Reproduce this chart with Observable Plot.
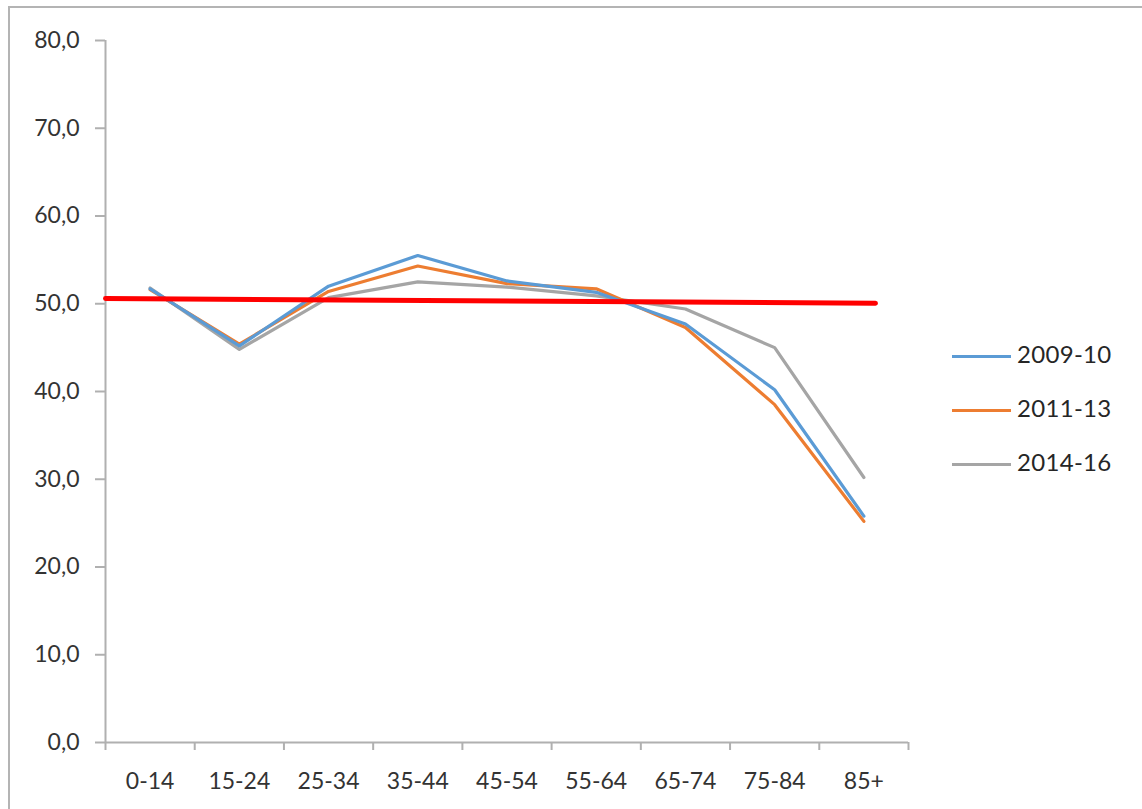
<!DOCTYPE html>
<html>
<head>
<meta charset="utf-8">
<script src="https://cdn.jsdelivr.net/npm/d3@7"></script>
<script src="https://cdn.jsdelivr.net/npm/@observablehq/plot@0.6"></script>
<style>
  html, body { margin: 0; padding: 0; background: #fff; }
  #wrap { position: relative; width: 1142px; height: 809px; overflow: hidden; font-family: Lato, "Open Sans", sans-serif; }
  #frame { position: absolute; left: 8px; top: 6px; width: 1200px; height: 900px; border-top: 2px solid #b4b4b4; border-left: 2px solid #b4b4b4; }
  #chart { position: absolute; left: 0; top: 0; }
  #legend { position: absolute; left: 952px; top: 338px; }
  .item { position: relative; height: 54px; }
  .sw { position: absolute; left: 0; top: 17px; width: 59px; height: 3px; }
  .lb { position: absolute; left: 65px; top: 1px; font-size: 24px; color: #262626; white-space: nowrap; letter-spacing: 0.3px; }
</style>
</head>
<body>
<div id="wrap">
  <div id="frame"></div>
  <div id="chart"></div>
  <div id="legend"></div>
</div>
<script>
const categories = ["0-14", "15-24", "25-34", "35-44", "45-54", "55-64", "65-74", "75-84", "85+"];
const seriesNames = ["2009-10", "2011-13", "2014-16"];
const values2009 = [51.7, 45.2, 52.0, 55.5, 52.6, 51.3, 47.7, 40.2, 25.8];
const values2011 = [51.6, 45.4, 51.4, 54.3, 52.3, 51.7, 47.3, 38.5, 25.2];
const values2014 = [51.8, 44.8, 50.7, 52.5, 51.9, 50.9, 49.4, 45.0, 30.2];
const seriesColors = ["#5B9BD5", "#ED7D31", "#A5A5A5"];
const yTicks = [0, 10, 20, 30, 40, 50, 60, 70, 80];
// hand-drawn red reference line: positions in category-index units, values in %
const refPos = [-0.5, 8.13];
const refVal = [50.6, 50.05];

const allValues = [values2009, values2011, values2014];
const rows = [];
allValues.forEach((vals, s) => vals.forEach((v, i) => rows.push({series: seriesNames[s], idx: i, value: v})));
const refRows = refPos.map((p, k) => ({pos: p, value: refVal[k]}));
const boundaries = d3.range(categories.length + 1).map(i => i - 0.5);

const axisColor = "#b0b0b0";
const textColor = "#333333";

const chart = Plot.plot({
  width: 1142,
  height: 809,
  marginLeft: 105,
  marginRight: 234,
  marginTop: 40,
  marginBottom: 67,
  style: {fontFamily: "Lato, 'Open Sans', sans-serif", fontSize: "23px", color: textColor, background: "transparent"},
  x: {type: "linear", domain: [-0.5, categories.length - 0.5], axis: null},
  y: {domain: [0, 80], axis: null},
  color: {domain: seriesNames, range: seriesColors},
  marks: [
    Plot.ruleX([-0.5], {y1: 0, y2: 80, stroke: axisColor, strokeWidth: 2}),
    Plot.ruleY([0], {x1: -0.5, x2: categories.length - 0.5, stroke: axisColor, strokeWidth: 2}),
    Plot.axisY({ticks: yTicks, tickSize: 10, tickPadding: 16, stroke: axisColor, strokeWidth: 2, label: null,
      tickFormat: v => v.toFixed(1).replace(".", ","), fontSize: 23, fill: textColor, style: {letterSpacing: "0.5px"}}),
    Plot.axisX({ticks: boundaries, tickSize: 8, tickFormat: () => "", stroke: axisColor, strokeWidth: 2, label: null}),
    Plot.axisX({ticks: d3.range(categories.length), tickSize: 0, tickPadding: 30, label: null,
      tickFormat: i => categories[i], fontSize: 23, fill: textColor}),
    Plot.line(rows.filter(d => d.series === "2014-16"), {x: "idx", y: "value", stroke: "series", strokeWidth: 3.2}),
    Plot.line(rows.filter(d => d.series === "2011-13"), {x: "idx", y: "value", stroke: "series", strokeWidth: 3.2}),
    Plot.line(rows.filter(d => d.series === "2009-10"), {x: "idx", y: "value", stroke: "series", strokeWidth: 3.2}),
    Plot.line(refRows, {x: "pos", y: "value", stroke: "#FF0000", strokeWidth: 5, strokeLinecap: "round"})
  ]
});
document.getElementById("chart").appendChild(chart);

const legend = document.getElementById("legend");
seriesNames.forEach((name, i) => {
  const item = document.createElement("div");
  item.className = "item";
  const sw = document.createElement("div");
  sw.className = "sw";
  sw.style.background = seriesColors[i];
  const lb = document.createElement("div");
  lb.className = "lb";
  lb.textContent = name;
  item.appendChild(sw);
  item.appendChild(lb);
  legend.appendChild(item);
});
</script>
</body>
</html>
